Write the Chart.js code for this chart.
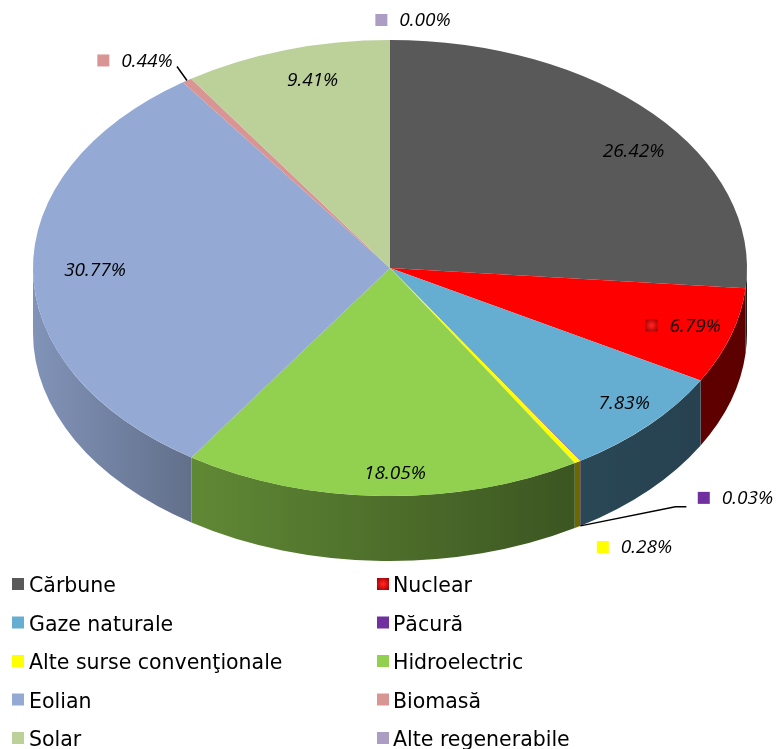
<!DOCTYPE html>
<html lang="ro">
<head>
  <meta charset="UTF-8">
  <title>Structura producției de energie electrică</title>
  <script src="https://cdn.jsdelivr.net/npm/chart.js"></script>
  <style>
    html, body { margin: 0; padding: 0; background: #fff; }
    #wrap { width: 776px; height: 749px; }
  </style>
</head>
<body>
  <div id="wrap"><canvas id="pieChart" width="776" height="749"></canvas></div>

  <script>
    // Data
    var labels = ['Cărbune', 'Nuclear', 'Gaze naturale', 'Păcură', 'Alte surse convenţionale',
                  'Hidroelectric', 'Eolian', 'Biomasă', 'Solar', 'Alte regenerabile'];
    var shares = [26.42, 6.79, 7.83, 0.03, 0.28, 18.05, 30.77, 0.44, 9.41, 0.00];
    var colors = ['#595959', '#FF0000', '#66ADD2', '#7030A0', '#FFFF00',
                  '#92D050', '#94A9D3', '#D99594', '#BCD09A', '#AB9DC3'];

    // Where the tilted pie sits on the page
    var view = { cx: 390, cy: 268, rx: 357, ry: 228, depth: 65 };

    // labels of tiny slices go outside, offsets from the rim point
    var outside = {
      'Alte regenerabile': { dx: 23, dy: -19 },
      'Biomasă': { dx: -52, dy: -19, leader: [[-10, -14]] },
      'Păcură': { dx: 155, dy: -27, leader: [[95, -19], [106, -19]] },
      'Alte surse convenţionale': { dx: 57, dy: 21 }
    };
    // small hand nudges for inside labels (excel best-fit)
    var nudge = { 'Cărbune': [5, 16], 'Hidroelectric': [0, 10] };
    var keyed = ['Nuclear', 'Alte regenerabile', 'Biomasă', 'Păcură', 'Alte surse convenţionale'];

    function shade(hex, k) {
      var n = parseInt(hex.slice(1), 16);
      var r = (n >> 16) & 255, g = (n >> 8) & 255, b = n & 255;
      return 'rgb(' + Math.round(r * k) + ',' + Math.round(g * k) + ',' + Math.round(b * k) + ')';
    }

    // parts of [s,e] that lie on the front (lower) half of the ellipse
    function frontParts(s, e) {
      var out = [];
      for (var k = -1; k <= 1; k++) {
        var lo = Math.max(s, k * 2 * Math.PI), hi = Math.min(e, k * 2 * Math.PI + Math.PI);
        if (hi > lo) out.push([lo, hi]);
      }
      return out;
    }

    function drawKey(ctx, i, x, y) {
      if (labels[i] === 'Nuclear') {
        var g = ctx.createRadialGradient(x + 6, y + 6, 1, x + 6, y + 6, 8);
        g.addColorStop(0, '#FF2020');
        g.addColorStop(1, '#9A0000');
        ctx.fillStyle = g;
      } else {
        ctx.fillStyle = colors[i];
      }
      ctx.fillRect(x, y, 12, 12);
    }

    var pie3d = {
      id: 'pie3d',
      beforeDatasetsDraw: function(chart) {
        var ctx = chart.ctx;
        var arcs = chart.getDatasetMeta(0).data;

        // side wall, only the front half is visible
        arcs.forEach(function(arc, i) {
          frontParts(arc.startAngle, arc.endAngle).forEach(function(p) {
            var g = ctx.createLinearGradient(view.cx - view.rx, 0, view.cx + view.rx, 0);
            g.addColorStop(0, shade(colors[i], 0.87));
            g.addColorStop(0.22, shade(colors[i], 0.66));
            g.addColorStop(0.74, shade(colors[i], 0.42));
            g.addColorStop(1, shade(colors[i], 0.36));
            ctx.beginPath();
            ctx.ellipse(view.cx, view.cy, view.rx, view.ry, 0, p[0], p[1]);
            ctx.ellipse(view.cx, view.cy + view.depth, view.rx, view.ry, 0, p[1], p[0], true);
            ctx.closePath();
            ctx.fillStyle = g;
            ctx.fill();
          });
        });

        // squash the circular pie into the top ellipse
        var a0 = arcs[0];
        ctx.save();
        ctx.translate(view.cx, view.cy);
        ctx.scale(view.rx / a0.outerRadius, view.ry / a0.outerRadius);
        ctx.translate(-a0.x, -a0.y);
      },
      afterDatasetsDraw: function(chart) {
        chart.ctx.restore();
      },
      afterDraw: function(chart) {
        var ctx = chart.ctx;
        var arcs = chart.getDatasetMeta(0).data;

        // data labels
        ctx.save();
        ctx.font = 'italic 19px "Open Sans"';
        ctx.textBaseline = 'middle';
        ctx.textAlign = 'left';
        arcs.forEach(function(arc, i) {
          var mid = (arc.startAngle + arc.endAngle) / 2;
          var text = shares[i].toFixed(2) + '%';
          var tw = ctx.measureText(text).width;
          var gw = 24 + tw;
          var gx, gy;
          var o = outside[labels[i]];
          if (o) {
            var ex = view.cx + view.rx * Math.cos(mid);
            var ey = view.cy + view.ry * Math.sin(mid) + (Math.sin(mid) > 0 ? view.depth : 0);
            gx = ex + o.dx;
            gy = ey + o.dy;
            if (o.leader) {
              ctx.beginPath();
              ctx.moveTo(ex, ey);
              o.leader.forEach(function(p) { ctx.lineTo(ex + p[0], ey + p[1]); });
              ctx.strokeStyle = '#000';
              ctx.lineWidth = 1.5;
              ctx.stroke();
            }
          } else {
            gx = view.cx + 0.86 * view.rx * Math.cos(mid);
            gy = view.cy + 0.86 * view.ry * Math.sin(mid);
            var n = nudge[labels[i]];
            if (n) { gx += n[0]; gy += n[1]; }
          }
          var left = gx - gw / 2;
          if (keyed.indexOf(labels[i]) >= 0) drawKey(ctx, i, left, gy - 7);
          ctx.fillStyle = '#000';
          ctx.fillText(text, left + 24, gy);
        });
        ctx.restore();

        // legend in two columns
        ctx.save();
        ctx.font = '20.5px "DejaVu Sans"';
        ctx.textBaseline = 'alphabetic';
        ctx.fillStyle = '#000';
        labels.forEach(function(name, i) {
          var col = i % 2, row = Math.floor(i / 2);
          var x = col === 0 ? 12 : 377;
          var y = 584 + row * 38.5;
          drawKey(ctx, i, x, y - 6);
          ctx.fillStyle = '#000';
          ctx.fillText(name, x + (col === 0 ? 17 : 16), y + 8);
        });
        ctx.restore();
      }
    };

    new Chart(document.getElementById('pieChart'), {
      type: 'pie',
      data: {
        labels: labels,
        datasets: [{
          data: shares,
          backgroundColor: colors,
          borderWidth: 0,
          hoverOffset: 0,
          clip: false
        }]
      },
      options: {
        responsive: false,
        animation: false,
        events: [],
        layout: { padding: { left: 33, right: 29, top: 0, bottom: 35 } },
        plugins: {
          legend: { display: false },
          tooltip: { enabled: false }
        }
      },
      plugins: [pie3d]
    });
  </script>
</body>
</html>
